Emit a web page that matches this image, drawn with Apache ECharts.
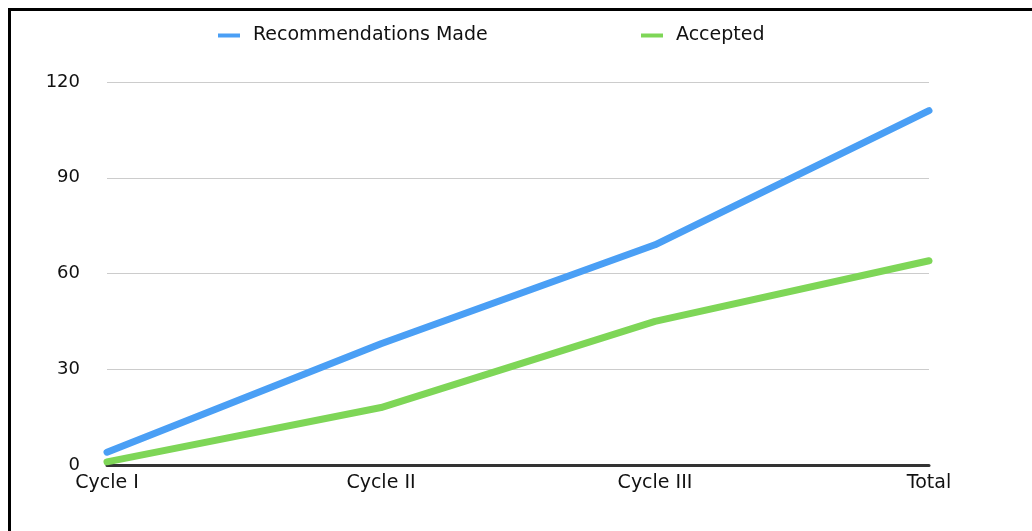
<!DOCTYPE html>
<html>
<head>
<meta charset="utf-8">
<script src="https://cdn.jsdelivr.net/npm/echarts@6/dist/echarts.min.js"></script>
<style>
html,body{margin:0;padding:0;background:#fff;}
#chart{width:1032px;height:531px;}
#frame{position:absolute;left:8px;top:8px;width:1030px;height:530px;border-top:3px solid #000;border-left:3px solid #000;pointer-events:none;}
</style>
</head>
<body>
<div id="chart"></div>
<div id="frame"></div>
<script>
const categories = ['Cycle I', 'Cycle II', 'Cycle III', 'Total'];
const recommendationsMade = [4, 38, 69, 111];
const accepted = [1, 18, 45, 64];
const yTicks = [0, 30, 60, 90, 120];
const seriesNames = ['Recommendations Made', 'Accepted'];

const font = 'DejaVu Sans';
const legendBase = {
  top: 21,
  itemWidth: 22,
  itemHeight: 4,
  icon: 'rect',
  textStyle: {fontFamily: font, fontSize: 19, color: '#111', padding: [0, 0, 0, 8]}
};
const chart = echarts.init(document.getElementById('chart'), null, {renderer: 'canvas'});
chart.setOption({
  animation: false,
  backgroundColor: '#fff',
  legend: [
    Object.assign({}, legendBase, {left: 213, data: [seriesNames[0]]}),
    Object.assign({}, legendBase, {left: 636, data: [seriesNames[1]]})
  ],
  grid: {left: 107, right: 103, top: 82, bottom: 66, containLabel: false},
  xAxis: {
    type: 'category',
    data: categories,
    boundaryGap: false,
    axisLine: {lineStyle: {color: '#333', width: 3}},
    axisTick: {show: false},
    axisLabel: {fontFamily: font, fontSize: 19, color: '#111', margin: 9}
  },
  yAxis: {
    type: 'value',
    min: yTicks[0],
    max: yTicks[yTicks.length - 1],
    interval: 30,
    axisLine: {show: false},
    axisTick: {show: false},
    axisLabel: {fontFamily: font, fontSize: 18, color: '#111', margin: 27},
    splitLine: {lineStyle: {color: '#cccccc', width: 1}}
  },
  series: [
    {
      name: seriesNames[0],
      type: 'line',
      data: recommendationsMade,
      symbol: 'none',
      color: '#4a9ff5',
      lineStyle: {width: 7, color: '#4a9ff5', cap: 'round', join: 'round'}
    },
    {
      name: seriesNames[1],
      type: 'line',
      data: accepted,
      symbol: 'none',
      color: '#7ed657',
      lineStyle: {width: 7, color: '#7ed657', cap: 'round', join: 'round'}
    }
  ]
});
</script>
</body>
</html>
